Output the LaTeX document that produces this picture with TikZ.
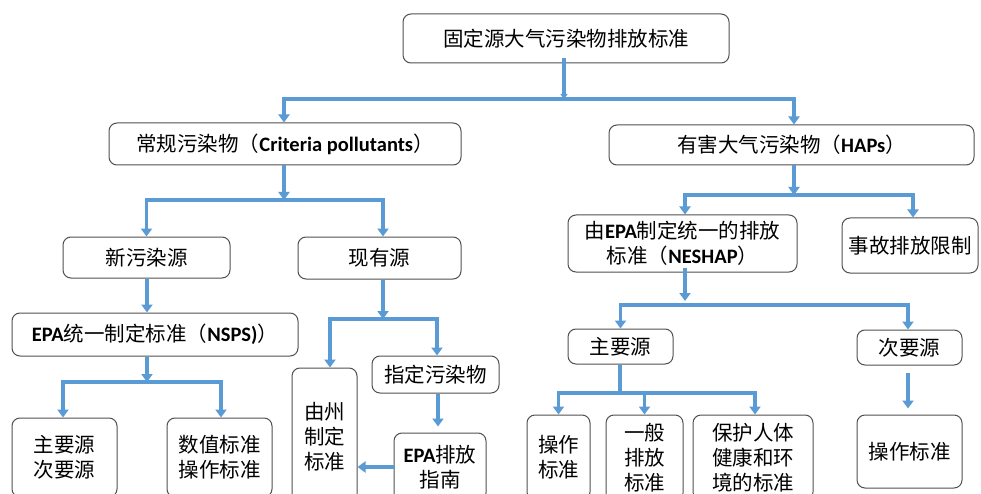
\documentclass[tikz,border=0pt]{standalone}
\usepackage{fontspec}
\setmainfont{Noto Sans CJK SC}
\newfontfamily\latfont{Carlito}
\newcommand\enb[1]{{\latfont\bfseries #1}}
\usetikzlibrary{arrows.meta}
\definecolor{arrblue}{RGB}{91,155,213}
\definecolor{boxgray}{RGB}{80,80,80}
\tikzset{
  box/.style={draw=boxgray, line width=1pt, rounded corners=8pt, fill=white,
    align=center, inner sep=0pt, font=\fontsize{20.5}{25}\selectfont},
  conn/.style={draw=arrblue, line width=3.2pt},
  arr/.style={conn, -{Triangle[width=11pt,length=8pt]}},
}
\begin{document}
\begin{tikzpicture}[x=1pt,y=-1pt]
\useasboundingbox (0,0) rectangle (981,494);
\clip (0,0) rectangle (981,494);
\fill[white] (0,0) rectangle (981,494);
% nodes
\node[box, minimum width=326, minimum height=49] (top) at (566,38.5) {固定源大气污染物排放标准};
\node[box, minimum width=352, minimum height=42] (crit) at (285,144) {常规污染物（\enb{Criteria pollutants}）};
\node[box, minimum width=365, minimum height=40] (haps) at (791.5,145) {有害大气污染物（\enb{HAPs}）};
\node[box, minimum width=167, minimum height=41] (new) at (146.5,257.5) {新污染源};
\node[box, minimum width=163, minimum height=42] (exist) at (379.5,258) {现有源};
\node[box, minimum width=229, minimum height=57] (neshap) at (682.5,243.5) {由\enb{EPA}制定统一的排放\\标准（\enb{NESHAP}）};
\node[box, minimum width=136, minimum height=55] (accid) at (910,245.5) {事故排放限制};
\node[box, minimum width=286, minimum height=43] (nsps) at (155,334.5) {\enb{EPA}统一制定标准（\enb{NSPS)}）};
\node[box, minimum width=105, minimum height=79] (main1) at (64.5,457.5) {主要源\\次要源};
\node[box, minimum width=105, minimum height=79] (num) at (219.5,457.5) {数值标准\\操作标准};
\node[box, minimum width=65, minimum height=138] (state) at (324.5,437) {由州\\制定\\标准};
\node[box, minimum width=127, minimum height=37] (desig) at (435.5,374.5) {指定污染物};
\node[box, minimum width=92, minimum height=68] (guide) at (440,467) {\enb{EPA}排放\\指南};
\node[box, minimum width=105, minimum height=35] (mainR) at (620.5,346.5) {主要源};
\node[box, minimum width=105, minimum height=35] (minorR) at (909.5,347.5) {次要源};
\node[box, minimum width=63, minimum height=85] (op) at (558.5,457.5) {操作\\标准};
\node[box, minimum width=77, minimum height=86] (gen) at (644.5,458) {一般\\排放\\标准};
\node[box, minimum width=120, minimum height=85] (prot) at (753,457.5) {保护人体\\健康和环\\境的标准};
\node[box, minimum width=105, minimum height=73] (opR) at (909.5,451.5) {操作标准};
% junctions
\coordinate (j1) at (564,99);
\coordinate (j2) at (284,200);
\coordinate (j3) at (794,195);
\coordinate (j4) at (147,382);
\coordinate (j5) at (383,319);
\coordinate (j6) at (685,305);
\coordinate (j7) at (620,393);
% connectors
\draw[conn, -{Triangle[width=7pt,length=5pt]}] ([yshift=5]top.south -| j1) -- (j1);
\draw[arr] (j1) -| ([xshift=-1]crit.north);
\draw[arr] (j1) -| ([xshift=2.5]haps.north);
\draw[arr] (crit.south -| j2) -- (j2);
\draw[arr] (j2) -| (new.north);
\draw[arr] (j2) -| ([xshift=3.5]exist.north);
\draw[arr] (haps.south -| j3) -- (j3);
\draw[arr] (j3) -| ([xshift=2.5]neshap.north);
\draw[arr] (j3) -| ([xshift=3]accid.north);
\draw[arr] (new.south -| j4) -- (nsps.north -| j4);
\draw[arr] (nsps.south -| j4) -- (j4);
\draw[arr] (j4) -| ([xshift=-1.5]main1.north);
\draw[arr] (j4) -| ([xshift=1.5]num.north);
\draw[arr] (exist.south -| j5) -- (j5);
\draw[arr] (j5) -| ([xshift=5.5]state.north);
\draw[arr] (j5) -| ([xshift=1.5]desig.north);
\draw[arr, shorten >=6pt] ([xshift=2.5]desig.south) -- ([xshift=2.5]desig.south |- guide.north);
\draw[arr] (guide.west) -- (guide.west -| state.east);
\draw[arr, shorten >=4pt] ([yshift=5]neshap.south -| j6) -- (j6);
\draw[conn] ([xshift=-65]j6) -- ([xshift=223]j6);
\draw[arr] (j6) -| (mainR.north);
\draw[arr] (j6) -| ([xshift=-1.5]minorR.north);
\draw[conn] (mainR.south -| j7) -- (j7);
\draw[arr] (j7) -| (op.north);
\draw[arr] (j7) -| (gen.north);
\draw[arr] (j7) -| ([xshift=2]prot.north);
\draw[arr, shorten <=7pt, shorten >=6pt] ([xshift=-1.5]minorR.south) -- ([xshift=-1.5]opR.north);
\end{tikzpicture}
\end{document}
